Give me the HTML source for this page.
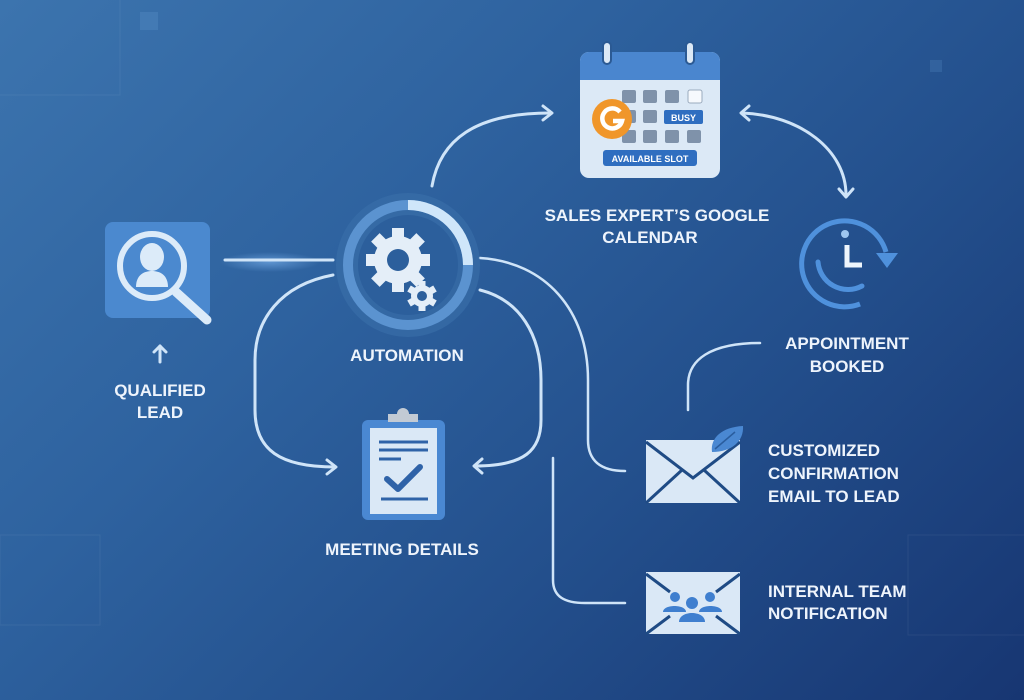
<!DOCTYPE html>
<html><head><meta charset="utf-8"><style>
html,body{margin:0;padding:0}
body{width:1024px;height:700px;overflow:hidden;background:linear-gradient(135deg,#3c74ae 0%,#2e629f 35%,#234f8c 65%,#173672 100%);font-family:"Liberation Sans",sans-serif}
svg{position:absolute;left:0;top:0}
</style></head><body>
<svg width="1024" height="700" viewBox="0 0 1024 700">
<defs>
<radialGradient id="glow" cx="50%" cy="50%" r="50%"><stop offset="0" stop-color="#8cc4ff" stop-opacity=".5"/><stop offset="1" stop-color="#8cc4ff" stop-opacity="0"/></radialGradient>
</defs>
<g fill="none" stroke="#ffffff" stroke-opacity=".06">
<rect x="-10" y="-10" width="130" height="105"/><rect x="0" y="535" width="100" height="90"/><rect x="908" y="535" width="130" height="100"/>
</g>
<rect x="140" y="12" width="18" height="18" fill="#5a8fc8" opacity=".35"/>
<rect x="930" y="60" width="12" height="12" fill="#5a8fc8" opacity=".25"/>
<ellipse cx="270" cy="262" rx="50" ry="10" fill="url(#glow)"/>
<!-- connectors -->
<g fill="none" stroke="#cfe4f8" stroke-width="3" stroke-linecap="round" stroke-linejoin="round">
<path d="M225 260 L333 260"/>
<path d="M432 186 C440 140 475 113 550 113"/><path d="M543 106 L552 113 L543 120"/>
<path d="M742 113 C800 115 846 150 846 195"/><path d="M749 106 L741 113 L749 120"/><path d="M839 189 L846 197 L853 189"/>
<path d="M333 275 C280 285 255 320 255 360 L255 410 C255 450 280 467 335 467"/><path d="M327 460 L336 467 L327 474"/>
<path d="M480 290 C520 300 541 335 541 380 L541 420 C541 450 525 466 475 466"/><path d="M482 459 L474 466 L482 473"/>
<path d="M480 258 C545 262 588 310 588 380 L588 440 C588 460 600 471 625 471" stroke-width="2.5"/>
<path d="M553 458 L553 580 C553 597 565 603 585 603 L625 603" stroke-width="2.5"/>
<path d="M688 410 L688 385 C688 360 710 343 760 343" stroke-width="2.5"/>
<path d="M160 362 L160 346"/><path d="M154 352 L160 346 L166 352"/>
</g>
<!-- search box -->
<rect x="105" y="222" width="105" height="96" rx="8" fill="#4b89cf"/>
<circle cx="152" cy="266" r="32" fill="none" stroke="#dcebf9" stroke-width="6"/>
<line x1="176" y1="292" x2="207" y2="320" stroke="#dcebf9" stroke-width="9" stroke-linecap="round"/>
<ellipse cx="152" cy="257" rx="12" ry="14" fill="#dcebf9"/>
<path d="M136 287 C136 275 144 271 152 271 C160 271 168 275 168 287 Z" fill="#dcebf9"/>
<!-- automation -->
<circle cx="408" cy="265" r="72" fill="#3a70aa" opacity=".6"/>
<circle cx="408" cy="265" r="60" fill="none" stroke="#5b93d0" stroke-width="10"/>
<path d="M408 205 A60 60 0 0 1 468 265" fill="none" stroke="#cfe6fa" stroke-width="10"/>
<circle cx="408" cy="265" r="50" fill="#2c5f9c"/>
<g fill="#e4eef8">
<circle cx="398" cy="260" r="24"/>
<g transform="translate(398 260)"><rect x="-6" y="-32" width="12" height="64"/><rect x="-6" y="-32" width="12" height="64" transform="rotate(45)"/><rect x="-6" y="-32" width="12" height="64" transform="rotate(90)"/><rect x="-6" y="-32" width="12" height="64" transform="rotate(135)"/></g>
<g transform="translate(422 296)"><circle r="11"/><rect x="-3.5" y="-15" width="7" height="30"/><rect x="-3.5" y="-15" width="7" height="30" transform="rotate(60)"/><rect x="-3.5" y="-15" width="7" height="30" transform="rotate(120)"/></g>
</g>
<circle cx="398" cy="260" r="11" fill="#2c5f9c"/>
<circle cx="422" cy="296" r="5" fill="#2c5f9c"/>
<!-- calendar -->
<rect x="580" y="52" width="140" height="126" rx="9" fill="#dce9f6"/>
<path d="M589 52 H711 A9 9 0 0 1 720 61 V80 H580 V61 A9 9 0 0 1 589 52Z" fill="#4a86cf"/>
<rect x="603" y="42" width="8" height="22" rx="4" fill="#dce9f6" stroke="#2b5a94" stroke-width="2"/>
<rect x="686" y="42" width="8" height="22" rx="4" fill="#dce9f6" stroke="#2b5a94" stroke-width="2"/>
<g fill="#7f92aa">
<rect x="622" y="90" width="14" height="13" rx="2"/><rect x="643" y="90" width="14" height="13" rx="2"/><rect x="665" y="90" width="14" height="13" rx="2"/>
<rect x="622" y="110" width="14" height="13" rx="2"/><rect x="643" y="110" width="14" height="13" rx="2"/>
<rect x="622" y="130" width="14" height="13" rx="2"/><rect x="643" y="130" width="14" height="13" rx="2"/><rect x="665" y="130" width="14" height="13" rx="2"/><rect x="687" y="130" width="14" height="13" rx="2"/>
</g>
<rect x="688" y="90" width="14" height="13" rx="2" fill="#f6f9fd" stroke="#9aaabd"/>
<rect x="664" y="110" width="39" height="14" rx="2" fill="#2f6ec0"/>
<text x="683.5" y="121" font-size="9" font-weight="bold" fill="#fff" text-anchor="middle">BUSY</text>
<rect x="603" y="150" width="94" height="16" rx="3" fill="#2f6ec0"/>
<text x="650" y="162" font-size="9" font-weight="bold" fill="#fff" text-anchor="middle">AVAILABLE SLOT</text>
<circle cx="612" cy="119" r="20" fill="#f0962a"/>
<path d="M620 112 A10 10 0 1 0 622 121 H613" fill="none" stroke="#fff" stroke-width="4.5"/>
<!-- clock -->
<path d="M860 304 A43 43 0 1 1 886 252" fill="none" stroke="#4f91dc" stroke-width="5"/>
<path d="M876 253 L898 253 L887 268 Z" fill="#4f91dc"/>
<path d="M818 262 A30 30 0 0 0 862 286" fill="none" stroke="#4f91dc" stroke-width="5" stroke-linecap="round"/>
<circle cx="845" cy="234" r="4" fill="#9fc6f0"/>
<path d="M847 245 V265 H862" fill="none" stroke="#eef5fc" stroke-width="5"/>
<!-- clipboard -->
<rect x="362" y="420" width="83" height="100" rx="6" fill="#4a88d2"/>
<rect x="370" y="428" width="67" height="86" fill="#dae8f6"/>
<path d="M388 422 V414 H397 A6 6 0 0 1 409 414 H418 V422 Z" fill="#c2cad4"/>
<g stroke="#2f63a8" stroke-width="3"><line x1="379" y1="442" x2="428" y2="442"/><line x1="379" y1="450" x2="428" y2="450"/><line x1="379" y1="459" x2="401" y2="459"/><line x1="381" y1="499" x2="428" y2="499"/></g>
<path d="M387 479 L398 489 L420 467" fill="none" stroke="#2f63a8" stroke-width="6" stroke-linecap="round" stroke-linejoin="round"/>
<!-- email1 -->
<rect x="646" y="440" width="94" height="63" fill="#dae8f6"/>
<path d="M646 442 L693 478 L740 442 M646 503 L682 470 M740 503 L704 470" fill="none" stroke="#1f4b85" stroke-width="3"/>
<path d="M712 452 C710 438 722 427 743 426 C744 441 732 452 712 452Z" fill="#4a88d2"/>
<path d="M715 449 L735 432" stroke="#2a5d9e" stroke-width="1.5"/>
<!-- email2 -->
<rect x="646" y="572" width="94" height="62" fill="#dae8f6"/>
<path d="M646 574 L670 592 M740 574 L716 592 M646 634 L670 616 M740 634 L716 616" fill="none" stroke="#1f4b85" stroke-width="3"/>
<g fill="#3f7fcf"><circle cx="675" cy="597" r="5"/><circle cx="710" cy="597" r="5"/><path d="M663 612 C663 604 686 604 686 612Z"/><path d="M699 612 C699 604 722 604 722 612Z"/><circle cx="692" cy="603" r="6"/><path d="M679 622 C679 610 705 610 705 622Z"/></g>
<!-- labels -->
<g fill="#eef4fc" font-size="17" font-weight="bold">
<text x="160" y="396" text-anchor="middle">QUALIFIED</text><text x="160" y="418" text-anchor="middle">LEAD</text>
<text x="407" y="361" text-anchor="middle">AUTOMATION</text>
<text x="657" y="221" text-anchor="middle">SALES EXPERT’S GOOGLE</text><text x="650" y="243" text-anchor="middle">CALENDAR</text>
<text x="847" y="349" text-anchor="middle">APPOINTMENT</text><text x="847" y="372" text-anchor="middle">BOOKED</text>
<text x="402" y="555" text-anchor="middle">MEETING DETAILS</text>
<text x="768" y="456">CUSTOMIZED</text><text x="768" y="479">CONFIRMATION</text><text x="768" y="502">EMAIL TO LEAD</text>
<text x="768" y="597">INTERNAL TEAM</text><text x="768" y="619">NOTIFICATION</text>
</g>
</svg>
</body></html>
